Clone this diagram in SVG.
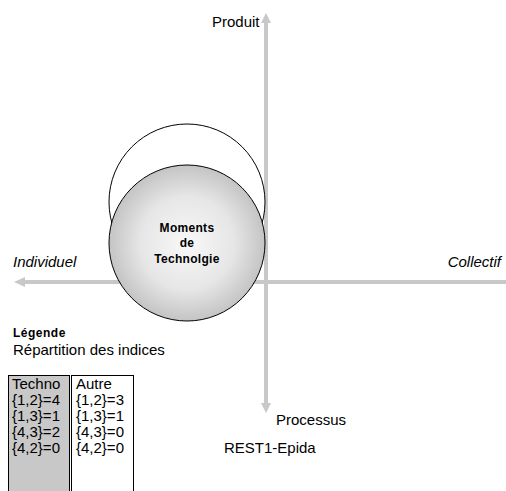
<svg xmlns="http://www.w3.org/2000/svg" width="506" height="491" viewBox="0 0 506 491">
<style>
.t{font-family:"Liberation Sans",Arial,sans-serif;font-size:15px;fill:#000}
.i{font-style:italic}
.b{font-family:"Liberation Sans",Arial,sans-serif;font-size:12px;font-weight:bold;fill:#000;letter-spacing:0.3px}
.axis{stroke:#c8c8c8;stroke-width:4;fill:none}
.head{fill:#c8c8c8}
</style>
<defs>
<radialGradient id="g" cx="50%" cy="50%" r="50%">
<stop offset="0" stop-color="#f8f8f8"/>
<stop offset="0.6" stop-color="#e6e6e6"/>
<stop offset="1" stop-color="#c4c4c4"/>
</radialGradient>
</defs>
<rect width="506" height="491" fill="#fff"/>
<g id="connectors">
<line class="axis" x1="266" y1="22" x2="266" y2="404"/>
<polygon class="head" points="266,13 261,23 271,23"/>
<polygon class="head" points="266,413 261,403 271,403"/>
<line class="axis" x1="24" y1="282" x2="506" y2="282"/>
<polygon class="head" points="14,282 25,277 25,287"/>
</g>
<g id="circle-back">
<circle cx="187" cy="202" r="78" fill="#fff" stroke="#000" stroke-width="1"/>
</g>
<g id="moments">
<circle cx="187" cy="243" r="78" fill="url(#g)" stroke="#000" stroke-width="1"/>
<text class="b" x="187" y="232" text-anchor="middle">Moments</text>
<text class="b" x="187" y="247" text-anchor="middle">de</text>
<text class="b" x="187" y="263" text-anchor="middle">Technolgie</text>
</g>
<g id="labels">
<text class="t" x="212" y="27">Produit</text>
<text class="t i" x="13" y="267">Individuel</text>
<text class="t i" x="501" y="267" text-anchor="end">Collectif</text>
<text class="t" x="276" y="425">Processus</text>
<text class="t" x="224" y="453">REST1-Epida</text>
</g>
<g id="legend">
<text class="b" x="13" y="337" style="letter-spacing:0.5px">Légende</text>
<text class="t" x="13" y="355">Répartition des indices</text>
</g>
<g id="table-techno">
<rect x="8.5" y="375.5" width="61" height="130" fill="#c8c8c8" stroke="#000" stroke-width="1"/>
<text class="t" x="12" y="389">Techno</text>
<text class="t" x="12" y="405">{1,2}=4</text>
<text class="t" x="12" y="421">{1,3}=1</text>
<text class="t" x="12" y="437">{4,3}=2</text>
<text class="t" x="12" y="453">{4,2}=0</text>
</g>
<g id="table-autre">
<rect x="71.5" y="375.5" width="62" height="130" fill="#fff" stroke="#000" stroke-width="1"/>
<text class="t" x="76" y="389">Autre</text>
<text class="t" x="76" y="405">{1,2}=3</text>
<text class="t" x="76" y="421">{1,3}=1</text>
<text class="t" x="76" y="437">{4,3}=0</text>
<text class="t" x="76" y="453">{4,2}=0</text>
</g>
</svg>
